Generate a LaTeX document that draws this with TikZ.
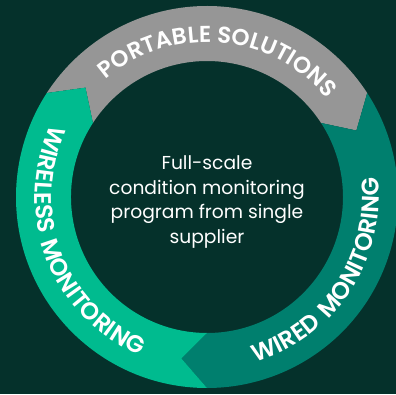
\documentclass[tikz,border=0pt]{standalone}
\usepackage{fontspec}
\setmainfont{Poppins}
\newfontfamily\ringfont{Poppins SemiBold}
\newfontfamily\ringwide{Poppins SemiBold}[LetterSpace=10]
\usetikzlibrary{calc,decorations.text}
\definecolor{bgdark}{RGB}{5,49,43}
\definecolor{portgray}{RGB}{150,150,150}
\definecolor{wlgreen}{RGB}{0,187,143}
\definecolor{wdteal}{RGB}{0,127,110}
\tikzset{
  ringtext/.style={decorate,decoration={text along path,text align=center,
    text={|\ringfont\fontsize{23}{23}\selectfont\color{white}|#1}}},
  widetext/.style={decorate,decoration={text along path,text align=center,
    text={|\ringwide\fontsize{24}{24}\selectfont\color{white}|#1}}}
}
\begin{document}
\begin{tikzpicture}[x=1pt,y=1pt]
\clip (0,0) rectangle (396,394);
\fill[bgdark] (0,0) rectangle (396,394);
\coordinate (c) at (207,197);
\fill[portgray] ($(c)+(147:191pt)$) arc[start angle=147,end angle=33,radius=191pt]
  -- ($(c)+(24:163.5pt)$) -- ($(c)+(33:136pt)$) arc[start angle=33,end angle=147,radius=136pt]
  -- ($(c)+(138:163.5pt)$) -- cycle;
\fill[wdteal] ($(c)+(33:191pt)$) arc[start angle=33,end angle=-90,radius=191pt]
  -- ($(c)+(-99:163.5pt)$) -- ($(c)+(-90:136pt)$) arc[start angle=-90,end angle=33,radius=136pt]
  -- ($(c)+(24:163.5pt)$) -- cycle;
\fill[wlgreen] ($(c)+(270:191pt)$) arc[start angle=270,end angle=147,radius=191pt]
  -- ($(c)+(138:163.5pt)$) -- ($(c)+(147:136pt)$) arc[start angle=147,end angle=270,radius=136pt]
  -- ($(c)+(261:163.5pt)$) -- cycle;
\path[ringtext={PORTABLE SOLUTIONS}] ($(c)+(150:155pt)$) arc[start angle=150,end angle=20,radius=155pt];
\path[widetext={WIRELESS MONITORING}] ($(c)+(141:172pt)$) arc[start angle=141,end angle=261,radius=172pt];
\path[widetext={WIRED MONITORING}] ($(c)+(-94:172pt)$) arc[start angle=-94,end angle=27,radius=172pt];
\node[align=center,text=white,font=\fontsize{18.7}{24.4}\selectfont] (program) at (207,192)
  {Full-scale\\condition monitoring\\program from single\\supplier};
\end{tikzpicture}
\end{document}
